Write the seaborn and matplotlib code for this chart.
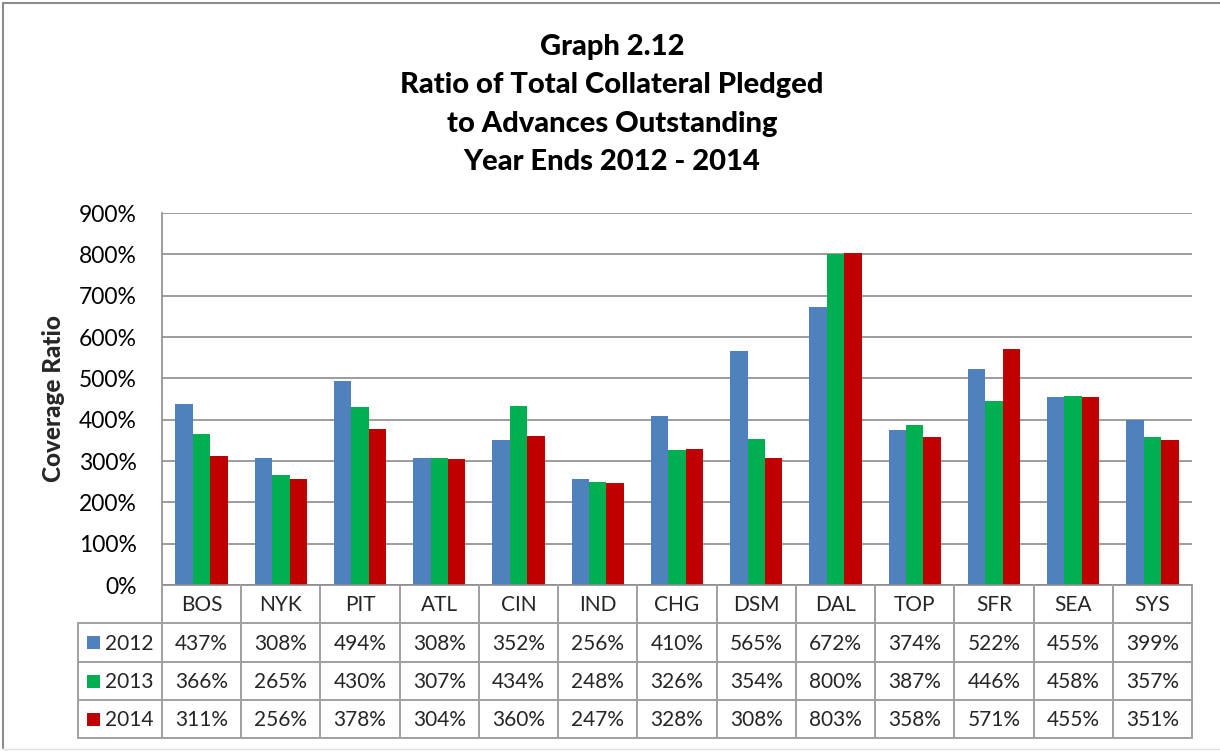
import matplotlib
matplotlib.use("Agg")
import matplotlib.pyplot as plt
import seaborn as sns
import pandas as pd
from matplotlib.lines import Line2D
from matplotlib.patches import Rectangle

banks = ["BOS", "NYK", "PIT", "ATL", "CIN", "IND", "CHG", "DSM", "DAL", "TOP", "SFR", "SEA", "SYS"]
years = ["2012", "2013", "2014"]
v2012 = [437, 308, 494, 308, 352, 256, 410, 565, 672, 374, 522, 455, 399]
v2013 = [366, 265, 430, 307, 434, 248, 326, 354, 800, 387, 446, 458, 357]
v2014 = [311, 256, 378, 304, 360, 247, 328, 308, 803, 358, 571, 455, 351]
yticks = [0, 100, 200, 300, 400, 500, 600, 700, 800, 900]
colors = ["#4F81BD", "#00B050", "#C00000"]
title_lines = ["Graph 2.12", "Ratio of Total Collateral Pledged",
               "to Advances Outstanding", "Year Ends 2012 - 2014"]

series = {"2012": v2012, "2013": v2013, "2014": v2014}
rows = []
for y in years:
    for b, v in zip(banks, series[y]):
        rows.append({"bank": b, "year": y, "ratio": v})
df = pd.DataFrame(rows)

sns.set_theme(style="white")
plt.rcParams["font.family"] = ["Lato", "DejaVu Sans"]

W, H = 1220, 751
fig = plt.figure(figsize=(W / 100, H / 100), dpi=100)
fig.patch.set_facecolor("white")

def fx(px):
    return px / W

def fy(py):
    return 1 - py / H

L, R, T, B = 162, 1192, 213, 585
ax = fig.add_axes([fx(L), fy(B), fx(R - L), (B - T) / H])

sns.barplot(data=df, x="bank", y="ratio", hue="year", palette=colors,
            order=banks, hue_order=years, width=0.66, gap=0,
            edgecolor="none", linewidth=0, ax=ax, legend=False, saturation=1)

ax.set_xlim(-0.5, len(banks) - 0.5)
ax.set_ylim(0, 900)
ax.set_yticks(yticks)
ax.set_yticklabels([f"{t}%" for t in yticks], fontsize=16.5, color="black")
ax.tick_params(axis="y", length=0, pad=18)
ax.set_xticks([])
ax.set_xlabel("")
ax.set_ylabel("Coverage Ratio", fontsize=17.5, fontweight="black", labelpad=12)
ax.yaxis.set_label_coords(fx(65 - L) / fx(R - L), 0.5)
ax.grid(axis="y", color="#8C8C8C", linewidth=1.2)
ax.set_axisbelow(True)
for s in ["top", "right"]:
    ax.spines[s].set_visible(False)
for s in ["left", "bottom"]:
    ax.spines[s].set_color("#8C8C8C")
    ax.spines[s].set_linewidth(1.2)

# Title
title_y = [47, 85, 124, 162]
for t, yy in zip(title_lines, title_y):
    fig.text(fx(612), fy(yy), t, ha="center", va="center",
             fontsize=21, fontweight="black", color="black")

# Data table
gc = "#A0A0A0"
lw = 1.4
colw = (R - L) / len(banks)
row_edges = [B, 623, 662, 700, 738]
TL = 78

def hline(x0, x1, y):
    fig.add_artist(Line2D([fx(x0), fx(x1)], [fy(y), fy(y)], color=gc, lw=lw))

def vline(x, y0, y1):
    fig.add_artist(Line2D([fx(x), fx(x)], [fy(y0), fy(y1)], color=gc, lw=lw))

for y in row_edges[1:]:
    hline(TL, R, y)
for i in range(len(banks) + 1):
    vline(L + i * colw, B, row_edges[-1])
vline(TL, row_edges[1], row_edges[-1])

for i, b in enumerate(banks):
    cx = L + (i + 0.5) * colw
    fig.text(fx(cx), fy((row_edges[0] + row_edges[1]) / 2 + 1), b,
             ha="center", va="center", fontsize=15)
    for r, y in enumerate(years):
        cy = (row_edges[r + 1] + row_edges[r + 2]) / 2 + 1
        fig.text(fx(cx), fy(cy), f"{series[y][i]}%",
                 ha="center", va="center", fontsize=15)

for r, y in enumerate(years):
    cy = (row_edges[r + 1] + row_edges[r + 2]) / 2
    fig.add_artist(Rectangle((fx(87), fy(cy + 6.5)), fx(13), 13 / H,
                             facecolor=colors[r], edgecolor="none"))
    fig.text(fx(105), fy(cy + 1), y, ha="left", va="center", fontsize=15)

# Outer chart border
fig.add_artist(Line2D([fx(3), fx(1220)], [fy(3), fy(3)], color="#8C8C8C", lw=1.5))
fig.add_artist(Line2D([fx(3), fx(3)], [fy(3), fy(748)], color="#8C8C8C", lw=1.5))
fig.add_artist(Line2D([fx(3), fx(1220)], [fy(749), fy(749)], color="#E0E0E0", lw=1.0))

fig.savefig("out.png", dpi=100)
